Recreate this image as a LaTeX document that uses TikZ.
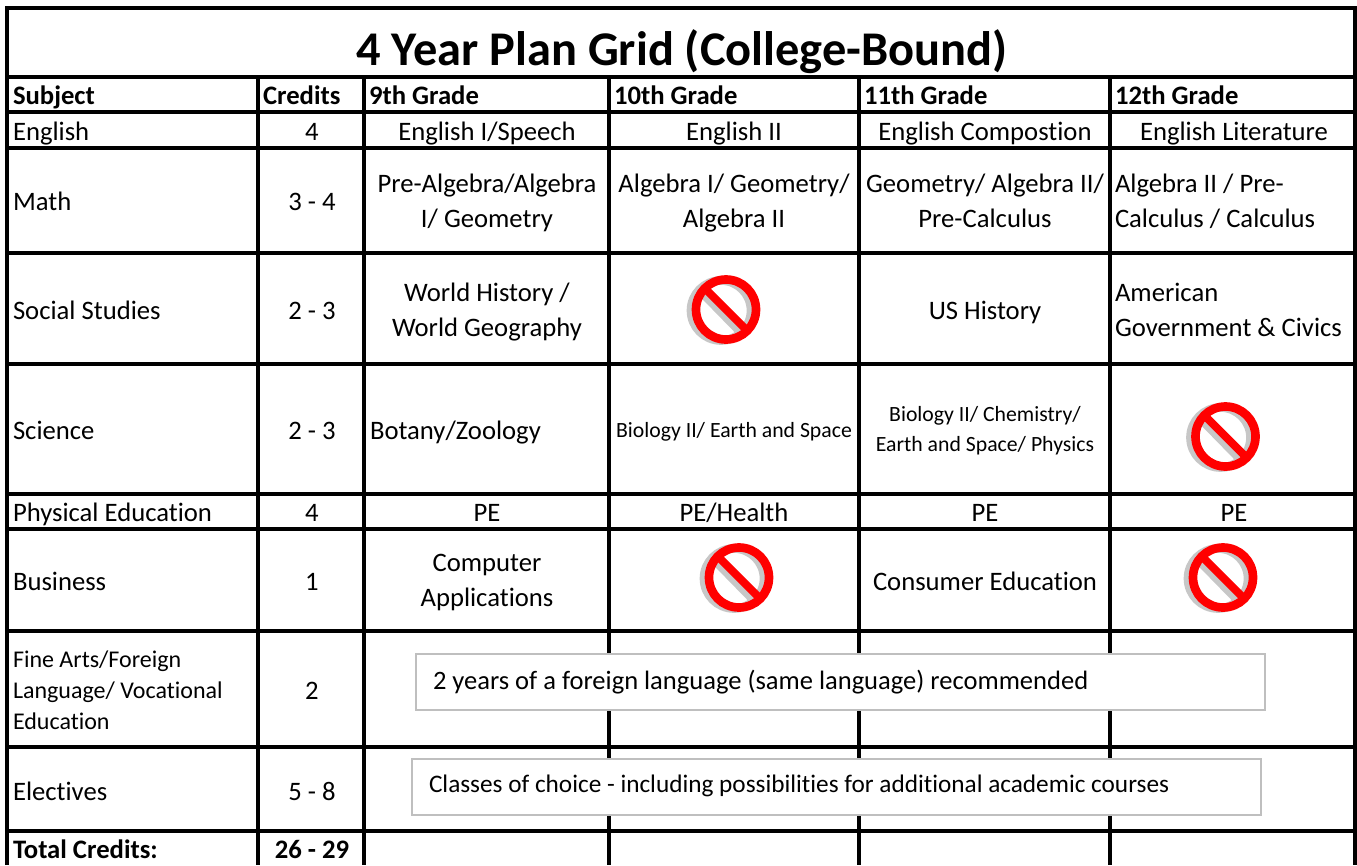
\documentclass[tikz,border=0pt]{standalone}
\usepackage{fontspec}
\setmainfont{Carlito}[Ligatures=NoCommon]
\newcommand{\nosign}[2]{%
  \begin{scope}[shift={(#1,#2)}]
    \draw[signshadow] (-5,1) circle[radius=30];
    \draw[signshadow] (-26,-19) -- (16,24);
    \draw[signring] (0,0) circle[radius=30];
    \draw[signbar] (-21,-21) -- (21,21);
  \end{scope}}
\tikzset{
  x=0.75pt,y=-0.75pt,
  gridline/.style={line width=2.4pt,black},
  signring/.style={line width=6.5pt,red},
  signbar/.style={line width=6pt,red},
  signshadow/.style={line width=6.5pt,black!22},
  cell/.style={inner sep=0pt,outer sep=0pt,yshift=-1.5pt,font=\fontsize{20}{26.25}\selectfont,align=center,anchor=center,execute at begin node=\strut,execute at end node=\strut},
  lefttext/.style={cell,align=left,anchor=west},
  headtext/.style={lefttext,font=\fontsize{20}{26.25}\selectfont\bfseries},
  smalltext/.style={cell,font=\fontsize{16.3}{22.5}\selectfont},
  smallleft/.style={lefttext,font=\fontsize{18}{23.3}\selectfont},
  notebox/.style={draw=black!25,line width=1.5pt,fill=white,inner sep=0pt,outer sep=0pt,minimum width=637pt,minimum height=42.5pt},
  notetext/.style={lefttext,font=\fontsize{19.9}{26.25}\selectfont},
  notesmall/.style={lefttext,font=\fontsize{18.95}{26.25}\selectfont},
}
\begin{document}
\begin{tikzpicture}
\useasboundingbox (0,0) rectangle (1357,865);
\fill[white] (0,0) rectangle (1357,865);
% outer frame and rules
\draw[gridline] (7,865) -- (7,8) -- (1355,8) -- (1355,865);
\foreach \y in {77,112,148,253,364,494,529,631,747,831}
  \draw[gridline] (7,\y) -- (1355,\y);
\foreach \x in {258,364,609,859,1110}
  \draw[gridline] (\x,77) -- (\x,865);
% title
\node[cell,font=\fontsize{36.3}{42}\selectfont\bfseries] (title) at (682,52) {4 Year Plan Grid (College-Bound)};
% header
\node[headtext] (hsub) at (13,95) {Subject};
\node[headtext] (hcre) at (263,95) {Credits};
\node[headtext] (h9) at (369,95) {9th Grade};
\node[headtext] (h10) at (614,95) {10th Grade};
\node[headtext] (h11) at (864,95) {11th Grade};
\node[headtext] (h12) at (1115,95) {12th Grade};
% english
\node[lefttext] (s1) at (13,131) {English};
\node[cell] (c1) at (312,131) {4};
\node[cell] (a1) at (487,131) {English I/Speech};
\node[cell] (b1) at (734,131) {English II};
\node[cell] (d1) at (985,131) {English Compostion};
\node[cell] (e1) at (1234,131) {English Literature};
% math
\node[lefttext] (s2) at (13,201) {Math};
\node[cell] (c2) at (312,201) {3 - 4};
\node[cell] (a2) at (487,204) {Pre-Algebra/Algebra\\I/ Geometry};
\node[cell] (b2) at (734,204) {Algebra I/ Geometry/\\Algebra II};
\node[cell] (d2) at (985,204) {Geometry/ Algebra II/\\Pre-Calculus};
\node[lefttext] (e2) at (1115,204) {Algebra II / Pre-\\Calculus / Calculus};
% social
\node[lefttext] (s3) at (13,310) {Social Studies};
\node[cell] (c3) at (312,310) {2 - 3};
\node[cell] (a3) at (487,313) {World History /\\World Geography};
\nosign{726}{309.5}
\node[cell] (d3) at (985,310) {US History};
\node[lefttext] (e3) at (1115,313) {American\\Government \& Civics};
% science
\node[lefttext] (s4) at (13,430) {Science};
\node[cell] (c4) at (312,430) {2 - 3};
\node[lefttext] (a4) at (370,430) {Botany/Zoology};
\node[smalltext] (b4) at (734,429) {Biology II/ Earth and Space};
\node[smalltext] (d4) at (985,431) {Biology II/ Chemistry/\\Earth and Space/ Physics};
\nosign{1225.5}{436.5}
% pe
\node[lefttext] (s5) at (13,512) {Physical Education};
\node[cell] (c5) at (312,512) {4};
\node[cell] (a5) at (487,512) {PE};
\node[cell] (b5) at (734,512) {PE/Health};
\node[cell] (d5) at (985,512) {PE};
\node[cell] (e5) at (1234,512) {PE};
% business
\node[lefttext] (s6) at (13,581) {Business};
\node[cell] (c6) at (312,581) {1};
\node[cell] (a6) at (487,584) {Computer\\Applications};
\nosign{739}{577.5}
\node[cell] (d6) at (985,581) {Consumer Education};
\nosign{1223}{577.5}
% fine arts
\node[smallleft] (s7) at (13,693) {Fine Arts/Foreign\\Language/ Vocational\\Education};
\node[cell] (c7) at (312,690) {2};
\node[notebox,anchor=north west] (n7) at (415.5,653.5) {};
\node[notetext] (t7) at (433,680) {2 years of a foreign language (same language) recommended};
% electives
\node[lefttext] (s8) at (13,791) {Electives};
\node[cell] (c8) at (312,791) {5 - 8};
\node[notebox,anchor=north west] (n8) at (411.5,758.5) {};
\node[notesmall] (t8) at (429,783) {Classes of choice - including possibilities for additional academic courses};
% total
\node[headtext] (s9) at (13,849) {Total Credits:};
\node[cell,font=\fontsize{20}{26.25}\selectfont\bfseries] (c9) at (312,849) {26 - 29};
\end{tikzpicture}
\end{document}
